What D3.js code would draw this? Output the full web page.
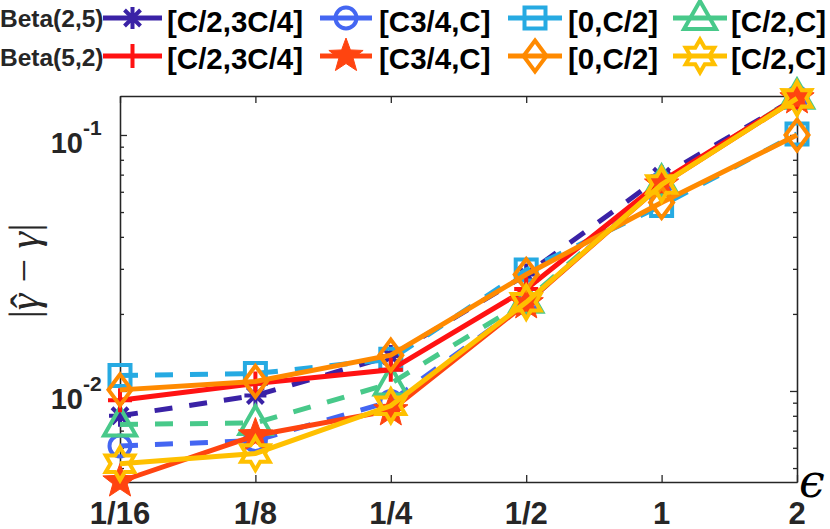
<!DOCTYPE html>
<html>
<head>
<meta charset="utf-8">
<script src="https://cdn.jsdelivr.net/npm/d3@7"></script>
<style>
  body { margin: 0; background: #fff; }
  svg { display: block; }
</style>
</head>
<body>
<div class="chart"></div>
<script>
(function() {
    'use strict';

    // DATA *************************************************************
    var epsilons = [1/16, 1/8, 1/4, 1/2, 1, 2];
    var epsLabels = ['1/16', '1/8', '1/4', '1/2', '1', '2'];
    var betaNames = ['Beta(2,5)', 'Beta(5,2)'];
    var intervals = ['[C/2,3C/4]', '[C3/4,C]', '[0,C/2]', '[C/2,C]'];

    // Beta(2,5) errors (dashed)
    var b25_c2_3c4 = [0.0080, 0.0096, 0.0137, 0.0285, 0.0690, 0.1400];
    var b25_3c4_c  = [0.0061, 0.0064, 0.0091, 0.0220, 0.0650, 0.1400];
    var b25_0_c2   = [0.0115, 0.0117, 0.0133, 0.0297, 0.0530, 0.1010];
    var b25_c2_c   = [0.0074, 0.0075, 0.0107, 0.0225, 0.0650, 0.1410];
    // Beta(5,2) errors (solid)
    var b52_c2_3c4 = [0.0092, 0.0107, 0.0121, 0.0250, 0.0660, 0.1400];
    var b52_3c4_c  = [0.00443, 0.0067, 0.0084, 0.0220, 0.0640, 0.1390];
    var b52_0_c2   = [0.0101, 0.0109, 0.0138, 0.0285, 0.0545, 0.1000];
    var b52_c2_c   = [0.0052, 0.0057, 0.00875, 0.0222, 0.0640, 0.1390];

    var yMajor = [0.01, 0.1];
    var yMajorExp = ['-2', '-1'];
    var yMinor = [0.005, 0.006, 0.007, 0.008, 0.009, 0.02, 0.03, 0.04, 0.05, 0.06, 0.07, 0.08, 0.09];

    // STYLES *************************************************************
    var COLORS = ['#3A22A6', '#4466F2', '#26AAE2', '#48C98A',
                  '#FF1212', '#FF4410', '#FF8A00', '#FFC000'];
    var MARKERS = ['asterisk', 'circle', 'square', 'triangle',
                   'plus', 'pentagram', 'diamond', 'hexagram'];
    var INK = '#262626';

    var seriesValues = [b25_c2_3c4, b25_3c4_c, b25_0_c2, b25_c2_c,
                        b52_c2_3c4, b52_3c4_c, b52_0_c2, b52_c2_c];

    var series = seriesValues.map(function(vals, i) {
        return {
            values: vals,
            color: COLORS[i],
            marker: MARKERS[i],
            dashed: i < 4,
            label: intervals[i % 4]
        };
    });

    // MARGIN CONVENTION *************************************************
    var W = 830, H = 529;
    var margin = {top: 96, right: 33, bottom: 47, left: 120};
    var width = W - margin.left - margin.right,
        height = H - margin.top - margin.bottom;

    var root = d3.select('.chart').append('svg')
                    .attr('width', W)
                    .attr('height', H);

    var svg = root.append('g')
                    .attr('transform', 'translate(' + margin.left + ',' + margin.top + ')');

    // SCALES
    var xScale = d3.scaleLog().base(2)
                    .domain([1/16, 2])
                    .range([0, width]);

    var yScale = d3.scaleLog()
                    .domain([0.00441, 0.142])
                    .range([height, 0]);

    // MARKER SHAPES
    function starPoints(n, R, r) {
        var pts = [];
        for (var k = 0; k < 2 * n; k++) {
            var rad = k % 2 === 0 ? R : r;
            var a = -Math.PI / 2 + k * Math.PI / n;
            pts.push([rad * Math.cos(a), rad * Math.sin(a)]);
        }
        return 'M' + pts.map(function(p) { return p[0].toFixed(2) + ',' + p[1].toFixed(2); }).join('L') + 'Z';
    }

    var markerPath = {
        asterisk: 'M-11,0H11M0,-11V11M-8,-8L8,8M-8,8L8,-8',
        circle: 'M10.5,0A10.5,10.5 0 1,1 -10.5,0A10.5,10.5 0 1,1 10.5,0Z',
        square: 'M-10.5,-10.5H10.5V10.5H-10.5Z',
        triangle: 'M0,-17L16,11L-16,11Z',
        plus: 'M-12,0H12M0,-12V12',
        pentagram: starPoints(5, 18, 7.5),
        diamond: 'M0,-15.5L11.5,0L0,15.5L-11.5,0Z',
        hexagram: starPoints(6, 16.5, 9.5)
    };

    function drawMarker(sel, d) {
        sel.append('path')
            .attr('d', markerPath[d.marker])
            .attr('fill', d.marker === 'pentagram' ? d.color : 'none')
            .attr('stroke', d.color)
            .attr('stroke-width', d.marker === 'pentagram' ? 1 : 4)
            .attr('stroke-linejoin', 'miter');
    }

    // AXES (box with inward ticks on all sides) ***************************
    var xTickFmt = function(d, i) { return epsLabels[i]; };

    var axes = [
        {gen: d3.axisBottom(xScale).tickValues(epsilons).tickFormat(''), t: 'translate(0,' + height + ')', size: -7},
        {gen: d3.axisTop(xScale).tickValues(epsilons).tickFormat(''), t: 'translate(0,0)', size: -7},
        {gen: d3.axisLeft(yScale).tickValues(yMajor).tickFormat(''), t: 'translate(0,0)', size: -7},
        {gen: d3.axisLeft(yScale).tickValues(yMinor).tickFormat(''), t: 'translate(0,0)', size: -4},
        {gen: d3.axisRight(yScale).tickValues(yMajor).tickFormat(''), t: 'translate(' + width + ',0)', size: -7},
        {gen: d3.axisRight(yScale).tickValues(yMinor).tickFormat(''), t: 'translate(' + width + ',0)', size: -4}
    ];

    axes.forEach(function(a) {
        var g = svg.append('g')
                    .attr('transform', a.t)
                    .call(a.gen.tickSizeInner(a.size).tickSizeOuter(0));
        g.select('.domain').attr('stroke', INK).attr('stroke-width', 1.3);
        g.selectAll('.tick line').attr('stroke', INK).attr('stroke-width', 1.3);
    });

    // x tick labels
    svg.append('g').selectAll('text')
        .data(epsilons)
        .enter()
        .append('text')
        .attr('x', function(d) { return xScale(d); })
        .attr('y', height + 42)
        .attr('text-anchor', 'middle')
        .attr('font-family', 'Liberation Sans, Arial, sans-serif')
        .attr('font-weight', 'bold')
        .attr('font-size', 31)
        .attr('fill', INK)
        .text(xTickFmt);

    // y tick labels 10^-k
    var yLab = svg.append('g').selectAll('g')
        .data(yMajor)
        .enter()
        .append('g')
        .attr('transform', function(d) { return 'translate(0,' + yScale(d) + ')'; });
    yLab.append('text')
        .attr('x', -37)
        .attr('y', 18)
        .attr('text-anchor', 'end')
        .attr('font-family', 'Liberation Sans, Arial, sans-serif')
        .attr('font-weight', 'bold')
        .attr('font-size', 29)
        .attr('fill', INK)
        .text('10');
    yLab.append('text')
        .attr('x', -37)
        .attr('y', 0)
        .attr('font-family', 'Liberation Sans, Arial, sans-serif')
        .attr('font-weight', 'bold')
        .attr('font-size', 21)
        .attr('fill', INK)
        .text(function(d, i) { return yMajorExp[i]; });

    // axis titles
    var yTitle = root.append('text')
        .attr('transform', 'translate(38,271) rotate(-90)')
        .attr('text-anchor', 'middle')
        .attr('font-family', 'Liberation Serif, serif')
        .attr('font-size', 42)
        .attr('fill', INK);
    yTitle.append('tspan').text('|');
    yTitle.append('tspan').attr('font-style', 'italic').text('\u03B3');
    yTitle.append('tspan').attr('dx', '-0.34em').attr('dy', '0.05em').text('\u02C6');
    yTitle.append('tspan').attr('dx', '0.02em').attr('dy', '-0.05em').text(' \u2212 ');
    yTitle.append('tspan').attr('font-style', 'italic').text('\u03B3');
    yTitle.append('tspan').text('|');

    root.append('text')
        .attr('x', 799)
        .attr('y', 497)
        .attr('font-family', 'DejaVu Serif, serif')
        .attr('font-style', 'italic')
        .attr('font-size', 46)
        .attr('fill', '#000')
        .text('\u03F5');

    // LINES + MARKERS **************************************************
    var line = d3.line()
                    .x(function(d, i) { return xScale(epsilons[i]); })
                    .y(function(d) { return yScale(d); });

    var plot = svg.append('g').attr('class', 'chart__series');

    series.forEach(function(s) {
        var g = plot.append('g');
        g.append('path')
            .attr('d', line(s.values))
            .attr('fill', 'none')
            .attr('stroke', s.color)
            .attr('stroke-width', 5)
            .attr('stroke-dasharray', s.dashed ? '18,17' : null);
        g.selectAll('g.mk')
            .data(s.values)
            .enter()
            .append('g')
            .attr('class', 'mk')
            .attr('transform', function(d, i) {
                return 'translate(' + xScale(epsilons[i]) + ',' + yScale(d) + ')';
            })
            .each(function() { drawMarker(d3.select(this), s); });
    });

    // LEGEND ************************************************************
    var rowLineY = [18, 56];
    var rowBetaBase = [26.5, 65.5];
    var rowTextBase = [32, 68.5];
    var itemLine = [[103, 162], [320, 372], [508, 562], [673, 727]];
    var itemText = [167, 379, 568, 731];

    var legend = root.append('g').attr('class', 'chart__legend');

    betaNames.forEach(function(name, r) {
        legend.append('text')
            .attr('x', 0)
            .attr('y', rowBetaBase[r])
            .attr('font-family', 'Liberation Sans, Arial, sans-serif')
            .attr('font-weight', 'bold')
            .attr('font-size', 24.5)
            .attr('fill', INK)
            .text(name);

        for (var c = 0; c < 4; c++) {
            var s = series[r * 4 + c];
            var x0 = itemLine[c][0], x1 = itemLine[c][1];
            legend.append('line')
                .attr('x1', x0).attr('x2', x1)
                .attr('y1', rowLineY[r]).attr('y2', rowLineY[r])
                .attr('stroke', s.color)
                .attr('stroke-width', 5);
            var mk = legend.append('g')
                .attr('transform', 'translate(' + ((x0 + x1) / 2) + ',' + rowLineY[r] + ')');
            drawMarker(mk, s);
            legend.append('text')
                .attr('x', itemText[c])
                .attr('y', rowTextBase[r])
                .attr('font-family', 'Liberation Sans, Arial, sans-serif')
                .attr('font-weight', 'bold')
                .attr('font-size', 29.5)
                .attr('fill', '#000')
                .text(s.label);
        }
    });

}());
</script>
</body>
</html>
